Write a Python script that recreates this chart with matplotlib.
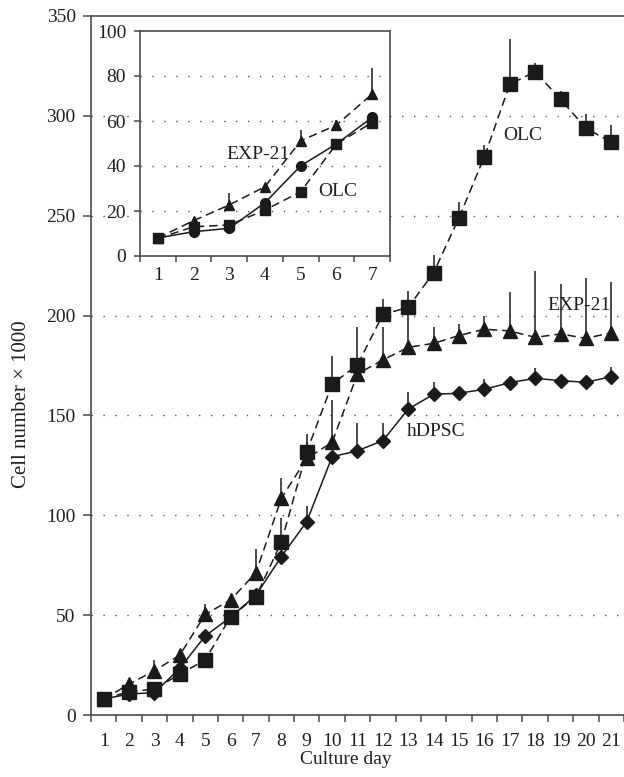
import matplotlib
matplotlib.use("Agg")
import matplotlib.pyplot as plt
import numpy as np

plt.rcParams['font.family'] = ['Liberation Serif', 'DejaVu Serif']

# ---------------- data ----------------
days = list(range(1, 22))
olc = [8, 11.7, 12.9, 20.5, 27.5, 49.2, 59.2, 86.6, 131.8, 165.7, 175.3, 200.6,
       204.1, 221.5, 249.0, 279.6, 315.8, 322.1, 308.3, 293.8, 286.8]
olc_err = [0, 0, 0, 0, 0, 0, 0, 12, 9, 14, 19, 7.7, 8, 9, 8, 6, 22.5, 4.5, 4.3, 7, 8.6]
exp21 = [8, 15.4, 22.2, 30.0, 50.4, 57.6, 71.3, 108.5, 128.5, 136.5, 170.8, 177.8,
         184.1, 186.1, 190.0, 193.2, 192.3, 189.1, 190.8, 188.6, 191.4]
exp21_err = [0, 1, 5.3, 1, 5, 1, 12, 10, 8, 21, 5, 16.6, 20, 8, 6, 6.6, 19.5, 33.4, 25, 30, 25.6]
hdpsc = [8, 10.5, 11.2, 23.4, 39.6, 49.0, 60.0, 79.3, 96.8, 129.3, 132.3, 137.4,
         153.2, 160.6, 161.1, 163.1, 166.4, 168.6, 167.4, 166.6, 169.4]
hdpsc_err = [0, 0, 0, 0, 0, 0, 0, 0, 8, 0, 14, 8.6, 8.5, 6, 0, 5, 0, 5, 0, 0, 4.7]

y_ticks = [0, 50, 100, 150, 200, 250, 300, 350]

inset_days = list(range(1, 8))
inset_exp21 = [8, 15.7, 22.7, 30.8, 51.2, 58.2, 72.0]
inset_exp21_err = [0, 1.5, 5.4, 0, 4.8, 2.2, 11.4]
inset_hdpsc = [8, 10.8, 12.3, 23.7, 40.1, 49.8, 61.6]
inset_hdpsc_err = [0, 0, 0, 0, 1.5, 0, 2.0]
inset_olc = [7.8, 13.0, 13.8, 20.4, 28.6, 49.8, 59.3]
inset_olc_err = [0, 0, 0, 0, 0, 0, 0]
inset_y_ticks = [0, 20, 40, 60, 80, 100]

# ---------------- style ----------------
INK = '#1a1a1a'
TXT = '#231f20'
SPINE = '#4a4a4a'
FS = 14
DASH = (0, (5.5, 3.2))

W, H = 624, 777
fig = plt.figure(figsize=(W / 100, H / 100), dpi=100)

ax = fig.add_axes([91 / W, (H - 715) / H, (W - 91) / W, (715 - 16) / H])


def draw(a, x, y, err, ls, marker, ms, lw=1.1, elw=1.1):
    a.vlines(x, y, np.array(y) + np.array(err), colors=INK, lw=elw, zorder=2)
    a.plot(x, y, ls=ls, color=INK, lw=lw, marker=marker, ms=ms,
           mfc=INK, mec=INK, zorder=3)


draw(ax, days, olc, olc_err, DASH, 's', 9.4)
draw(ax, days, exp21, exp21_err, DASH, '^', 9.7)
draw(ax, days, hdpsc, hdpsc_err, '-', 'D', 7.0)

ax.set_xlim(0.5, 21.5)
ax.set_ylim(0, 350)
ax.set_yticks(y_ticks)
ax.set_yticklabels([str(v) for v in y_ticks])
ax.set_xticks(days)
ax.set_xticklabels([str(d) for d in days])
ax.set_xticks(np.arange(0.5, 22, 1), minor=True)
ax.tick_params(axis='x', which='major', length=0, pad=13, labelsize=FS, colors=TXT)
ax.tick_params(axis='x', which='minor', length=5, width=1.1, color=SPINE, direction='out')
ax.tick_params(axis='y', which='major', length=6, width=1.1, color=SPINE, pad=5,
               labelsize=FS, labelcolor=TXT, direction='out')
for v in y_ticks[1:-1]:
    ax.axhline(v, color='#555555', lw=1.0, ls=(0, (1, 7.6)), zorder=1)
for s in ['left', 'bottom', 'top']:
    ax.spines[s].set_color(SPINE)
    ax.spines[s].set_linewidth(1.2)
ax.spines['right'].set_visible(False)

ax.text(16.75, 290, 'OLC', fontsize=FS, color=TXT, ha='left', va='center')
ax.text(18.5, 205, 'EXP-21', fontsize=FS, color=TXT, ha='left', va='center')
ax.text(12.95, 142, 'hDPSC', fontsize=FS, color=TXT, ha='left', va='center')

fig.text(22 / W, 1 - 404 / H, 'Cell number \u00d7 1000', rotation=90, fontsize=15,
         color=TXT, ha='center', va='center')
fig.text(346 / W, 1 - 760 / H, 'Culture day', fontsize=FS, color=TXT,
         ha='center', va='center')

# ---------------- inset ----------------
ins = fig.add_axes([140 / W, (H - 256) / H, 250 / W, 225 / H])
ins.set_facecolor('white')
draw(ins, inset_days, inset_olc, inset_olc_err, DASH, 's', 6.8)
draw(ins, inset_days, inset_exp21, inset_exp21_err, DASH, '^', 7.5)
draw(ins, inset_days, inset_hdpsc, inset_hdpsc_err, '-', 'o', 7.0)
ins.set_xlim(0.5, 7.5)
ins.set_ylim(0, 100)
ins.set_yticks(inset_y_ticks)
ins.set_yticklabels([str(v) for v in inset_y_ticks])
ins.set_xticks(inset_days)
ins.set_xticklabels([str(d) for d in inset_days])
ins.set_xticks(np.arange(0.5, 8, 1), minor=True)
ins.tick_params(axis='x', which='major', length=0, pad=8, labelsize=FS, colors=TXT)
ins.tick_params(axis='x', which='minor', length=4, width=1.1, color=SPINE, direction='out')
ins.tick_params(axis='y', which='major', length=4, width=1.1, color=SPINE, pad=6,
                labelsize=FS, labelcolor=TXT, direction='out')
for v in inset_y_ticks[1:-1]:
    ins.axhline(v, color='#555555', lw=1.0, ls=(0, (1, 7.6)), zorder=1)
for s in ins.spines.values():
    s.set_color(SPINE)
    s.set_linewidth(1.2)
ins.text(2.93, 45, 'EXP-21', fontsize=FS, color=TXT, ha='left', va='center')
ins.text(5.49, 28.6, 'OLC', fontsize=FS, color=TXT, ha='left', va='center')

fig.savefig('out.png', dpi=100)
